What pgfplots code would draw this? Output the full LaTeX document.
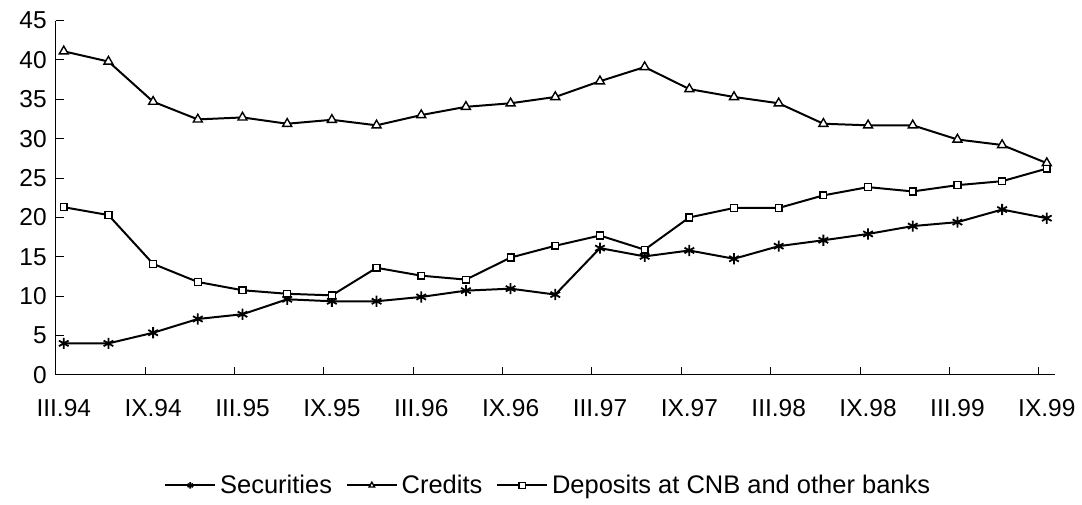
\documentclass[border=0pt]{standalone}
\usepackage{fontspec}
\setmainfont{Liberation Sans}
\usepackage{pgfplots}
\pgfplotsset{compat=1.18}
\begin{document}
\begin{tikzpicture}
\begin{axis}[
  scale only axis,
  width=502pt, height=178pt,
  xmin=-0.18, xmax=22.18,
  ymin=0, ymax=45,
  axis lines=left,
  axis line style={-, line width=0.6pt},
  tick align=inside,
  ytick={0,5,...,45},
  xtick={0,2,...,22},
  xticklabels={III.94,IX.94,III.95,IX.95,III.96,IX.96,III.97,IX.97,III.98,IX.98,III.99,IX.99},
  minor xtick={-0.18,1.82,3.82,5.82,7.82,9.82,11.82,13.82,15.82,17.82,19.82,21.82},
  major x tick style={draw=none},
  minor tick length=4pt,
  major tick length=4pt,
  tick style={black, line width=0.5pt},
  /pgf/number format/assume math mode=true,
  tick label style={font=\fontsize{12.3}{14}\selectfont},
  xticklabel style={yshift=-9pt},
  yticklabel style={xshift=-1pt},
  legend style={at={(0.494,-0.312)}, anchor=center, draw=none, legend columns=-1,
    font=\fontsize{12.8}{15}\selectfont,
    /tikz/every even column/.append style={column sep=5pt},
    nodes={inner sep=2pt}},
  legend image code/.code={\draw[mark repeat=2,mark phase=2] plot coordinates {(0pt,0pt) (12.5pt,0pt) (25pt,0pt)};},
  legend image post style={mark size=1.6pt},
]
\addplot[black, line width=1pt, mark=asterisk, mark size=2.8pt, mark options={solid, line width=0.9pt}] coordinates {
(0,4.0)(1,4.0)(2,5.35)(3,7.1)(4,7.7)(5,9.6)(6,9.35)(7,9.35)(8,9.9)(9,10.7)(10,10.95)(11,10.2)
(12,16.1)(13,15.05)(14,15.8)(15,14.75)(16,16.35)(17,17.1)(18,17.9)(19,18.9)(20,19.4)(21,21.0)(22,19.9)};
\addlegendentry{Securities}
\addplot[black, line width=1pt, mark=triangle*, mark size=2.6pt, mark options={solid, fill=white, line width=0.7pt}] coordinates {
(0,41.1)(1,39.8)(2,34.7)(3,32.45)(4,32.7)(5,31.9)(6,32.4)(7,31.7)(8,33.0)(9,34.05)(10,34.5)(11,35.3)
(12,37.3)(13,39.1)(14,36.3)(15,35.3)(16,34.5)(17,31.9)(18,31.7)(19,31.7)(20,29.9)(21,29.2)(22,26.9)};
\addlegendentry{Credits}
\addplot[black, line width=1pt, mark=square*, mark size=1.7pt, mark options={solid, fill=white, line width=0.7pt}] coordinates {
(0,21.3)(1,20.3)(2,14.1)(3,11.8)(4,10.75)(5,10.3)(6,10.1)(7,13.6)(8,12.6)(9,12.1)(10,14.9)(11,16.4)
(12,17.7)(13,15.9)(14,20.0)(15,21.2)(16,21.2)(17,22.8)(18,23.85)(19,23.3)(20,24.1)(21,24.6)(22,26.2)};
\addlegendentry{Deposits at CNB and other banks}
\end{axis}
\path ([xshift=-28pt,yshift=-59.65pt]current axis.south west) rectangle ([xshift=11pt,yshift=10.35pt]current axis.north east);
\end{tikzpicture}
\end{document}
